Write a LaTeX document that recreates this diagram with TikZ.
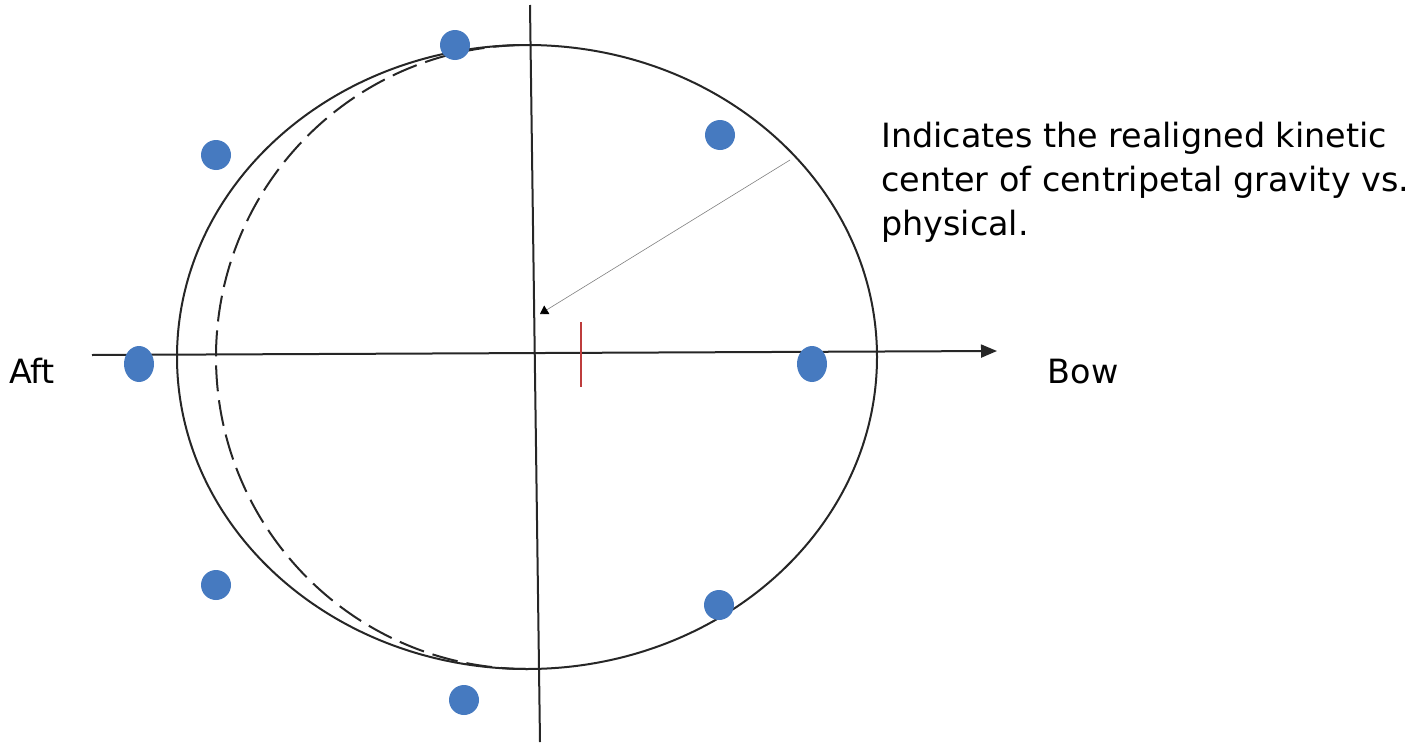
\documentclass[tikz,border=0pt]{standalone}
\usepackage{fontspec}
\setmainfont{DejaVu Sans}
\usetikzlibrary{arrows.meta,shapes.geometric}
\definecolor{dotblue}{RGB}{70,122,192}
\definecolor{tickred}{RGB}{190,60,60}
\tikzset{
  dot/.style={circle,fill=dotblue,minimum size=30pt,inner sep=0pt},
  tall dot/.style={ellipse,fill=dotblue,minimum width=30pt,minimum height=36pt,inner sep=0pt},
  axis/.style={line width=2pt,black!85},
  label text/.style={font=\fontsize{33.4}{44}\selectfont,inner sep=0pt}
}
\begin{document}
\begin{tikzpicture}[x=1pt,y=-1pt]
\useasboundingbox (0,0) rectangle (1427,744);

\coordinate (top) at (530,5);
\coordinate (bottom) at (540,742);
\coordinate (aftend) at (92,355);
\coordinate (bowend) at (997,351);
\draw[axis] (top) -- (bottom);
\draw[axis,-{Triangle[length=16pt,width=13pt]}] (aftend) -- (bowend);

\draw[axis] (527,357) ellipse [x radius=350,y radius=312];
\draw[axis,dash pattern=on 26pt off 9pt] (527,669) arc [start angle=90,end angle=270,x radius=311,y radius=312];

\draw[tickred,line width=1.4pt] (581,322) -- (581,387);

\node[dot] (d1) at (455,45) {};
\node[dot] (d2) at (216,155) {};
\node[dot] (d3) at (720,135) {};
\node[tall dot] (aftdot) at (139,364) {};
\node[tall dot] (bowdot) at (812,364) {};
\node[dot] (d6) at (216,585) {};
\node[dot] (d7) at (719,605) {};
\node[dot] (d8) at (464,700) {};

\node[label text] (aft) at (32,371) {Aft};
\node[label text] (bow) at (1083,372) {Bow};
\node[label text,anchor=north west,align=left] (note) at (881,122) {Indicates the realigned kinetic\\center of centripetal gravity vs.\\physical.};

\coordinate (from) at (790,160);
\coordinate (kinetic) at (540,314);
\draw[gray,line width=0.6pt,-{Triangle[length=8pt,width=10pt,black]}] (from) -- (kinetic);

\end{tikzpicture}
\end{document}
